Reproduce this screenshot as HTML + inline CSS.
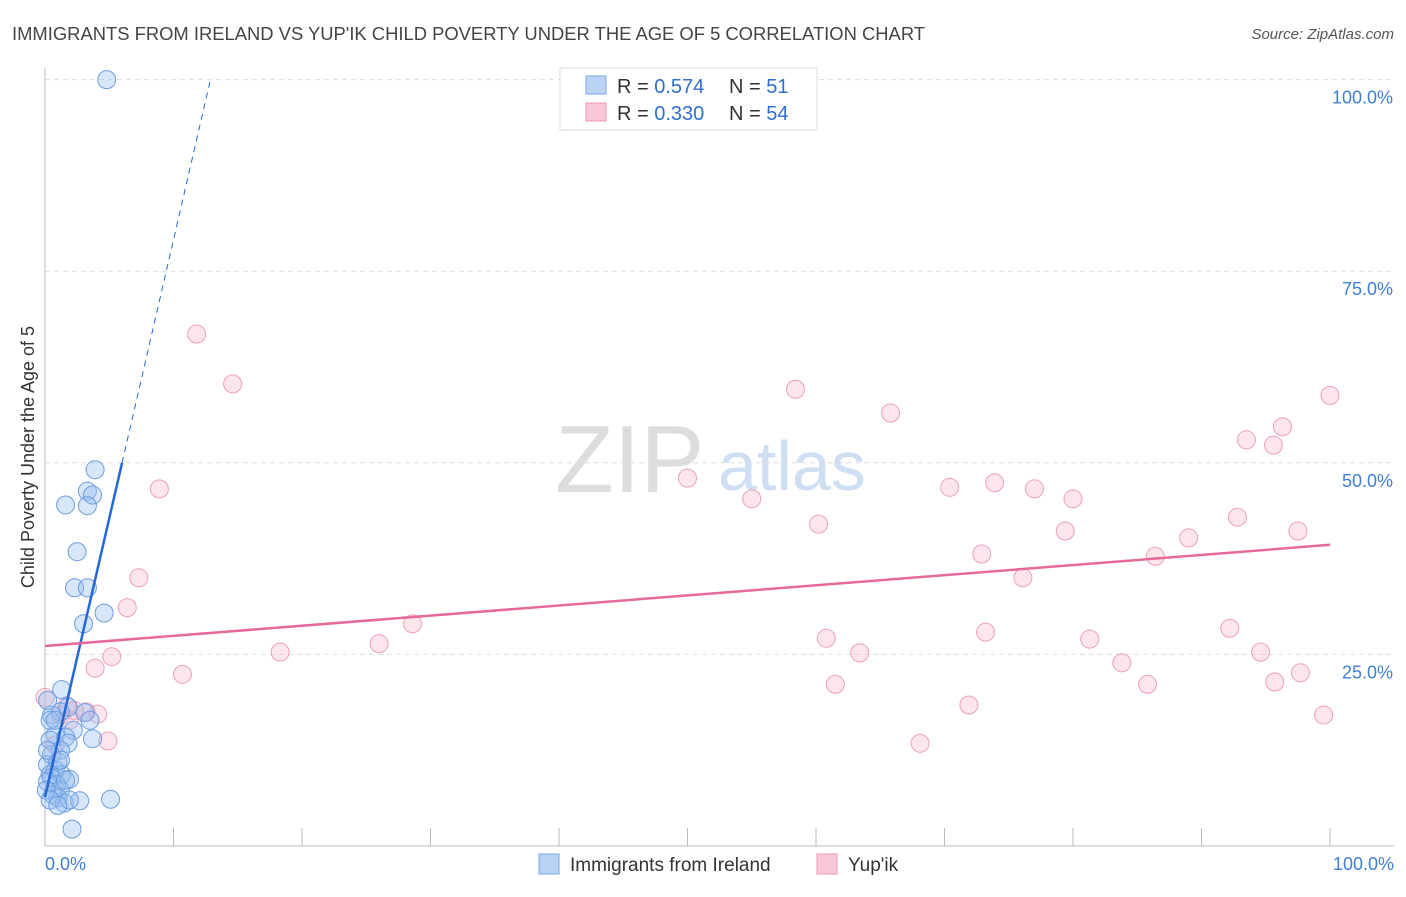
<!DOCTYPE html>
<html><head><meta charset="utf-8"><style>
body{margin:0;background:#fff;font-family:"Liberation Sans",sans-serif}
svg text{font-family:"Liberation Sans",sans-serif}
</style></head><body>
<svg id="c" width="1406" height="892" xmlns="http://www.w3.org/2000/svg">
<text x="12" y="40" font-size="18" fill="#444" textLength="913" lengthAdjust="spacingAndGlyphs">IMMIGRANTS FROM IRELAND VS YUP'IK CHILD POVERTY UNDER THE AGE OF 5 CORRELATION CHART</text>
<text x="1394" y="39" font-size="15" fill="#555" font-style="italic" text-anchor="end">Source: ZipAtlas.com</text>
<text x="34" y="457" font-size="18" fill="#333" text-anchor="middle" transform="rotate(-90 34 457)">Child Poverty Under the Age of 5</text>
<text x="555" y="492" font-size="96" fill="#ddd" font-family="Liberation Serif">ZIP</text>
<text x="718" y="490" font-size="70" fill="#cfdff3">atlas</text>
<g id="grid"></g><g id="pts"></g><g id="lines"></g>
<g>
<rect x="560" y="68" width="257" height="62" fill="#fff" stroke="#ddd"/>
<rect x="586" y="76" width="20" height="18" fill="#b9d3f5" stroke="#7aa7e0"/>
<rect x="586" y="103" width="20" height="18" fill="#f9c8d6" stroke="#eb9ab2"/>
<text x="617" y="93" font-size="20" fill="#333">R = <tspan fill="#2f6fd0">0.574</tspan><tspan x="729">N = </tspan><tspan fill="#2f6fd0">51</tspan></text>
<text x="617" y="120" font-size="20" fill="#333">R = <tspan fill="#2f6fd0">0.330</tspan><tspan x="729">N = </tspan><tspan fill="#2f6fd0">54</tspan></text>
</g>
<g>
<rect x="539" y="854" width="20" height="20" fill="#b9d3f5" stroke="#7aa7e0"/>
<text x="570" y="871" font-size="19" fill="#333">Immigrants from Ireland</text>
<rect x="817" y="854" width="20" height="20" fill="#f9c8d6" stroke="#eb9ab2"/>
<text x="848" y="871" font-size="19" fill="#333">Yup'ik</text>
</g>
</svg>
<script>
const yTicks=[25,50,75,100];
const yTickLabels=["25.0%","50.0%","75.0%","100.0%"];
const xTickLabels=["0.0%","100.0%"];
const blueX=[4.8,3.9,1.6,3.3,3.7,3.3,2.5,2.3,3.3,4.6,3.0,1.3,1.8,1.2,0.5,3.1,3.5,2.2,0.8,1.6,3.7,0.4,1.8,1.2,0.5,0.2,1.0,0.8,0.4,1.3,1.9,0.5,0.2,0.9,1.2,0.6,1.0,1.5,2.7,5.1,1.9,2.1,0.2,0.4,0.8,0.2,0.1,1.2,1.6,0.4,1.0];
const blueY=[100,49.1,44.5,46.3,45.8,44.4,38.4,33.7,33.7,30.4,29.0,20.4,18.1,17.5,17.1,17.4,16.4,15.1,14.5,14.2,14.0,13.8,13.4,12.5,11.9,10.6,11.0,9.9,9.3,9.3,8.7,8.9,8.4,8.0,7.3,6.7,6.3,5.6,5.9,6.1,6.0,2.2,19.0,16.4,16.4,12.5,7.3,11.2,8.6,6.0,5.3];
const pinkX=[11.8,14.6,8.9,7.3,6.4,3.9,5.2,10.7,18.3,26.0,28.6,1.7,3.2,4.1,4.9,0,1.2,2.3,50.0,55.0,58.4,60.2,60.8,61.5,63.4,65.8,68.1,70.4,71.9,72.9,73.2,73.9,76.1,77.0,79.4,80.0,81.3,83.8,85.8,86.4,89.0,92.2,92.8,93.5,94.6,95.6,95.7,96.3,97.5,97.7,99.5,100,1.9,0.8];
const pinkY=[66.8,60.3,46.6,35.0,31.1,23.2,24.7,22.4,25.3,26.4,29.0,18.3,17.5,17.2,13.7,19.4,17.1,17.7,48.0,45.3,59.6,42.0,27.1,21.1,25.2,56.5,13.4,46.8,18.4,38.1,27.9,47.4,35.0,46.6,41.1,45.3,27.0,23.9,21.1,37.8,40.2,28.4,42.9,53.0,25.3,52.3,21.4,54.7,41.1,22.6,17.1,58.8,16.4,13.2];
const blueTrend=[6.4,7.27];
const pinkTrend=[26.1,0.132];
const NS="http://www.w3.org/2000/svg";
const sx=v=>45+v*12.85, sy=v=>846-v*7.664;
function mk(t,a,p){const e=document.createElementNS(NS,t);for(const k in a)e.setAttribute(k,a[k]);p.appendChild(e);return e;}
const grid=document.getElementById('grid');
yTicks.forEach((t,i)=>{
 const l=mk('line',{x1:45,x2:1394,y1:sy(t),y2:sy(t),stroke:'#ddd','stroke-dasharray':'5,4'},grid);
 
 
 const tx=mk('text',{x:1393,y:sy(t)+24,'font-size':18,fill:'#3d7fd6','text-anchor':'end'},grid);
 tx.textContent=yTickLabels[i];
 
 
});
mk('line',{x1:45,x2:45,y1:68,y2:846,stroke:'#bbb'},grid);
mk('line',{x1:45,x2:1394,y1:846,y2:846,stroke:'#bbb'},grid);
for(let i=0;i<=10;i++){const x=sx(i*10);const t=mk('line',{x1:x,x2:x,y1:828,y2:846,stroke:'#bbb'},grid);
 
 }
[[0,'start',45],[100,'end',1394]].forEach((d,i)=>{const t=mk('text',{x:d[2],y:870,'font-size':18,fill:'#3d7fd6','text-anchor':d[1]},grid);t.textContent=xTickLabels[i];
 
 });
const pts=document.getElementById('pts');
pinkX.forEach((x,i)=>{const c=mk('circle',{cx:sx(x),cy:sy(pinkY[i]),r:9,fill:'rgba(244,170,195,0.3)',stroke:'#eea0b8','stroke-width':1},pts);
 
 });
blueX.forEach((x,i)=>{const c=mk('circle',{cx:sx(x),cy:sy(blueY[i]),r:9,fill:'rgba(150,190,240,0.38)',stroke:'#6a9de0','stroke-width':1},pts);
 
 });
const L=document.getElementById('lines');
const bx1=(50-blueTrend[0])/blueTrend[1], bx2=(100-blueTrend[0])/blueTrend[1];
const b=mk('line',{x1:sx(0),y1:sy(blueTrend[0]),x2:sx(bx1),y2:sy(50),stroke:'#2468d8','stroke-width':2.5},L);


const bd=mk('line',{x1:sx(bx1),y1:sy(50),x2:sx(bx2),y2:sy(100),stroke:'#2468d8','stroke-width':1,'stroke-dasharray':'6,5'},L);


const p=mk('line',{x1:sx(0),y1:sy(pinkTrend[0]),x2:sx(100),y2:sy(pinkTrend[0]+pinkTrend[1]*100),stroke:'#e5699a','stroke-width':2.5},L);


</script>
</body></html>
